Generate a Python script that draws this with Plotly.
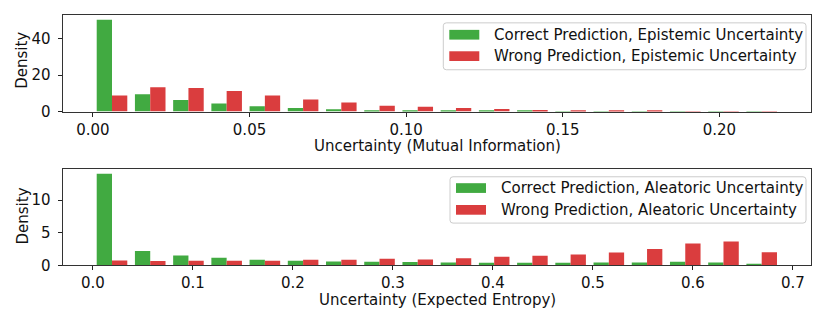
import numpy as np
import plotly.graph_objects as go

# ---------------- data ----------------
n_bins = 18
mi_range = (0.0, 0.2196)      # Mutual information histogram range
ee_range = (0.0, 0.6880)      # Expected entropy histogram range

mi_correct = [50.4, 9.5, 6.4, 4.5, 2.9, 2.0, 1.25, 0.7, 0.5, 0.4, 0.3, 0.2,
              0.15, 0.1, 0.06, 0.04, 0.03, 0.02]
mi_wrong = [8.9, 13.4, 13.0, 11.25, 8.9, 6.6, 5.0, 3.2, 2.7, 2.0, 1.4, 0.9,
            0.7, 0.35, 0.2, 0.1, 0.06, 0.05]

ee_correct = [14.05, 2.2, 1.5, 1.15, 0.85, 0.7, 0.6, 0.55, 0.5, 0.45, 0.4, 0.4,
              0.4, 0.45, 0.45, 0.55, 0.45, 0.25]
ee_wrong = [0.75, 0.65, 0.7, 0.7, 0.7, 0.85, 0.85, 1.0, 0.9, 1.1, 1.3, 1.45,
            1.65, 1.95, 2.5, 3.35, 3.65, 2.0]

top_labels = ["Correct Prediction, Epistemic Uncertainty",
              "Wrong Prediction, Epistemic Uncertainty"]
bot_labels = ["Correct Prediction, Aleatoric Uncertainty",
              "Wrong Prediction, Aleatoric Uncertainty"]
top_xtitle = "Uncertainty (Mutual Information)"
bot_xtitle = "Uncertainty (Expected Entropy)"
ytitle = "Density"

top_xticks = [0.00, 0.05, 0.10, 0.15, 0.20]
top_yticks = [0, 20, 40]
bot_xticks = [0.0, 0.1, 0.2, 0.3, 0.4, 0.5, 0.6, 0.7]
bot_yticks = [0, 5, 10]

GREEN = "#41aa41"
RED = "#da3d3e"
FONT = "DejaVu Sans"
FS = 15

W, H = 830, 332


def px_x(x):
    return x / W


def px_y(y):
    return 1 - y / H


fig = go.Figure()


def add_hist(rng, correct, wrong, xa, ya):
    edges = np.linspace(rng[0], rng[1], n_bins + 1)
    w = edges[1] - edges[0]
    left = edges[:-1]
    fig.add_trace(go.Bar(x=left, y=correct, width=0.4 * w, offset=0.1 * w,
                         marker=dict(color=GREEN, line=dict(width=0)),
                         xaxis=xa, yaxis=ya, showlegend=False))
    fig.add_trace(go.Bar(x=left, y=wrong, width=0.4 * w, offset=0.5 * w,
                         marker=dict(color=RED, line=dict(width=0)),
                         xaxis=xa, yaxis=ya, showlegend=False))
    # matplotlib-like autoscale: bars span [0.1w, (n-0.1)w], 5% margins
    lo = rng[0] + 0.1 * w
    hi = rng[0] + (n_bins - 0.1) * w
    m = 0.05 * (hi - lo)
    return [lo - m, hi + m]


top_xr = add_hist(mi_range, mi_correct, mi_wrong, "x", "y")
bot_xr = add_hist(ee_range, ee_correct, ee_wrong, "x2", "y2")

top_yr = [0, max(max(mi_correct), max(mi_wrong)) * 1.05]
bot_yr = [0, max(max(ee_correct), max(ee_wrong)) * 1.05]

xdom = [px_x(62.7), px_x(811)]
top_ydom = [px_y(114.7), px_y(15.7)]
bot_ydom = [px_y(272.7), px_y(174)]

axis_common = dict(showline=True, mirror=True, linecolor="#333333", linewidth=1.1,
                   ticks="outside", ticklen=4, tickwidth=1, tickcolor="#222222",
                   showgrid=False, zeroline=False,
                   tickfont=dict(family=FONT, size=FS, color="#111111"))

fig.update_layout(
    width=W, height=H,
    margin=dict(l=0, r=0, t=0, b=0),
    paper_bgcolor="white", plot_bgcolor="white",
    barmode="overlay",
    xaxis=dict(domain=xdom, range=top_xr, anchor="y", tickvals=top_xticks,
               tickformat=".2f", **axis_common),
    yaxis=dict(domain=top_ydom, range=top_yr, anchor="x", tickvals=top_yticks,
               ticklabelstandoff=4, **axis_common),
    xaxis2=dict(domain=xdom, range=bot_xr, anchor="y2", tickvals=bot_xticks,
                tickformat=".1f", **axis_common),
    yaxis2=dict(domain=bot_ydom, range=bot_yr, anchor="x2", tickvals=bot_yticks,
                ticklabelstandoff=4, **axis_common),
)

annotations = []
shapes = []

# axis titles
for (xc, yc, txt, ang) in [(437, 150.5, top_xtitle, 0), (437, 308.5, bot_xtitle, 0),
                           (22.5, 62, ytitle, -90), (22.5, 222, ytitle, -90)]:
    annotations.append(dict(x=px_x(xc), y=px_y(yc), xref="paper", yref="paper",
                            text=txt, showarrow=False, textangle=ang,
                            xanchor="center", yanchor="middle", borderpad=0,
                            font=dict(family=FONT, size=FS, color="#111111")))


def rounded_rect(x0, y0, x1, y1, r=3):
    X = lambda v: px_x(v)
    Y = lambda v: px_y(v)
    return (f"M {X(x0 + r)},{Y(y0)} L {X(x1 - r)},{Y(y0)} "
            f"Q {X(x1)},{Y(y0)} {X(x1)},{Y(y0 + r)} "
            f"L {X(x1)},{Y(y1 - r)} Q {X(x1)},{Y(y1)} {X(x1 - r)},{Y(y1)} "
            f"L {X(x0 + r)},{Y(y1)} Q {X(x0)},{Y(y1)} {X(x0)},{Y(y1 - r)} "
            f"L {X(x0)},{Y(y0 + r)} Q {X(x0)},{Y(y0)} {X(x0 + r)},{Y(y0)} Z")


def add_legend(box, sw_x, text_x, rows, labels):
    x0, y0, x1, y1 = box
    shapes.append(dict(type="path", xref="paper", yref="paper",
                       path=rounded_rect(x0, y0, x1, y1),
                       fillcolor="rgba(255,255,255,0.85)",
                       line=dict(color="#cccccc", width=1)))
    for yc, col, lab in zip(rows, [GREEN, RED], labels):
        shapes.append(dict(type="rect", xref="paper", yref="paper",
                           x0=px_x(sw_x), x1=px_x(sw_x + 30),
                           y0=px_y(yc + 5), y1=px_y(yc - 5),
                           fillcolor=col, line=dict(width=0)))
        annotations.append(dict(x=px_x(text_x), y=px_y(yc), xref="paper", yref="paper",
                                text=lab, showarrow=False, xanchor="left",
                                yanchor="middle",
                                font=dict(family=FONT, size=FS, color="#111111")))


add_legend((443.3, 23.5, 806, 71.7), 449.3, 491.5, [35.7, 57.7], top_labels)
add_legend((450, 181.7, 806, 229.3), 456, 498.5, [193.3, 215.7], bot_labels)

fig.update_layout(annotations=annotations, shapes=shapes)

css = "margin:0;padding:0;overflow:hidden;width:830px;height:332px;"
fig.write_html(
    "out.html",
    config={"displayModeBar": False},
    post_script=(f"document.documentElement.style.cssText='{css}';"
                 f"document.body.style.cssText='{css}';"),
)
